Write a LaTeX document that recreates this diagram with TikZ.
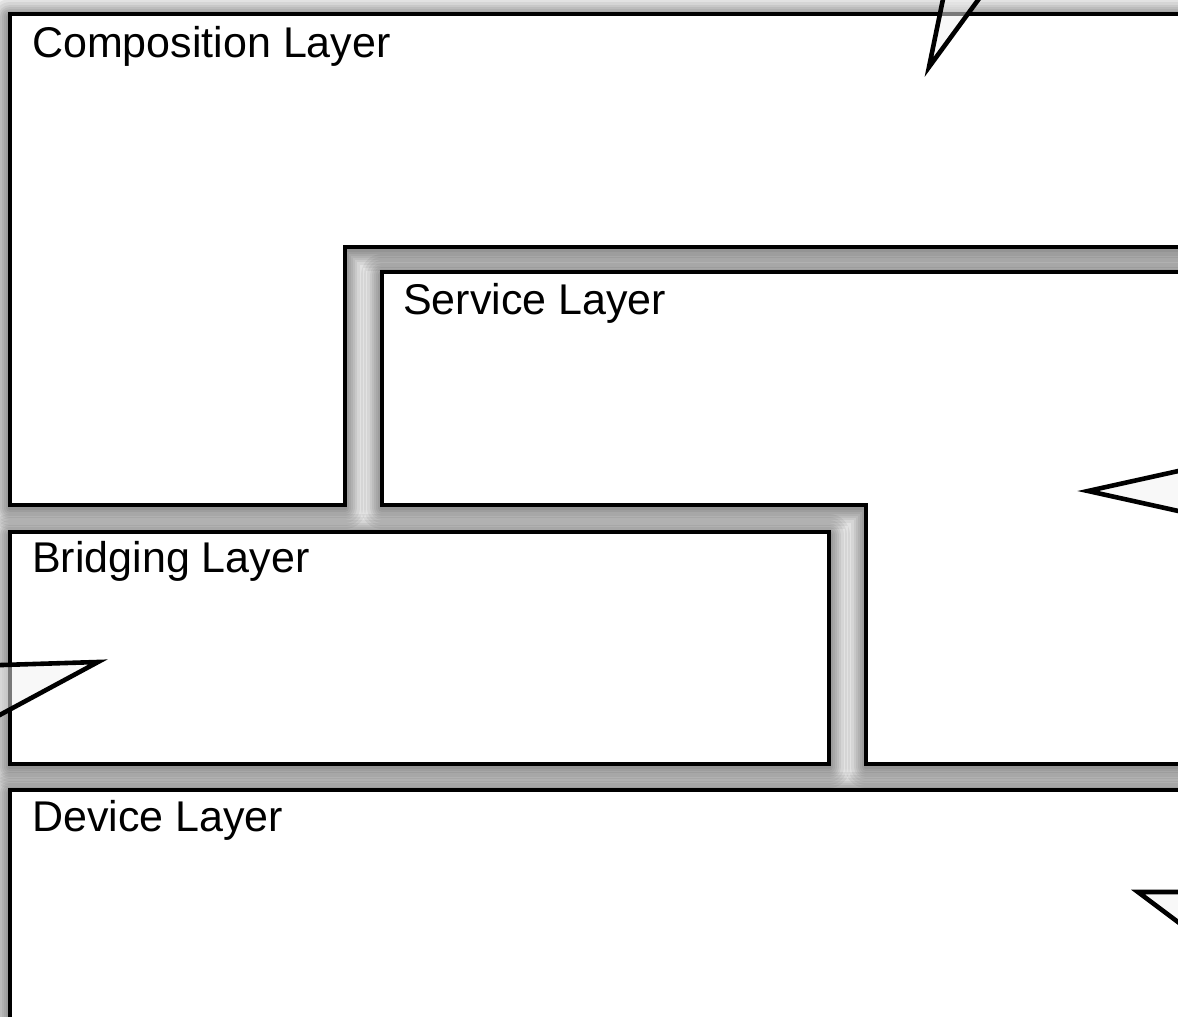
\documentclass[tikz,border=0pt]{standalone}
\usepackage{fontspec}
\setmainfont{Liberation Sans}
\begin{document}
\begin{tikzpicture}[x=1pt,y=-1pt,
  layerbox/.style={draw=black,line width=4.4pt,fill=white,line join=miter},
  shadstroke/.style={draw=black,draw opacity=0.06,line join=round,yshift=-3pt},
  tailshape/.style={draw=black,line width=4.6pt,fill=gray!10,fill opacity=0.5,line join=miter},
  lbl/.style={anchor=base west,inner sep=0pt,font=\fontsize{43}{50}\selectfont}]
\useasboundingbox (0,0) rectangle (1178,1017);
\clip (0,0) rectangle (1178,1017);
\def\pcomp{(10,14) -- (1230,14) -- (1230,247) -- (345,247) -- (345,505) -- (10,505) -- cycle}
\def\pserv{(382,272) -- (1230,272) -- (1230,764) -- (866,764) -- (866,505) -- (382,505) -- cycle}
\def\pbridge{(10,532) -- (829,532) -- (829,764) -- (10,764) -- cycle}
\def\pdev{(10,790) -- (1230,790) -- (1230,1070) -- (10,1070) -- cycle}
% shadows
\foreach \w in {4,8,12,16,20,24,30,36,42}{
  \draw[shadstroke,line width=\w pt] \pcomp;
  \draw[shadstroke,line width=\w pt] \pserv;
  \draw[shadstroke,line width=\w pt] \pbridge;
  \draw[shadstroke,line width=\w pt] \pdev;
}
% layers
\draw[layerbox] \pcomp;
\draw[layerbox] \pserv;
\draw[layerbox] \pbridge;
\draw[layerbox] \pdev;
% labels
\node[lbl] (comp) at (32,57) {Composition Layer};
\node[lbl] (serv) at (403,314) {Service Layer};
\node[lbl] (bridge) at (32,572) {Bridging Layer};
\node[lbl] (dev) at (32,831) {Device Layer};
% callout tails
\coordinate (tipA) at (929,67);
\coordinate (tipB) at (98,662);
\coordinate (tipC) at (1088,491);
\coordinate (tipD) at (1138,892);
\draw[tailshape] (949,-30) -- (tipA) -- (1000,-30);
\draw[tailshape] (-30,666) -- (tipB) -- (-30,731);
\draw[tailshape] (1210,464) -- (tipC) -- (1210,518);
\draw[tailshape] (1210,892) -- (tipD) -- (1210,946);
\end{tikzpicture}
\end{document}
